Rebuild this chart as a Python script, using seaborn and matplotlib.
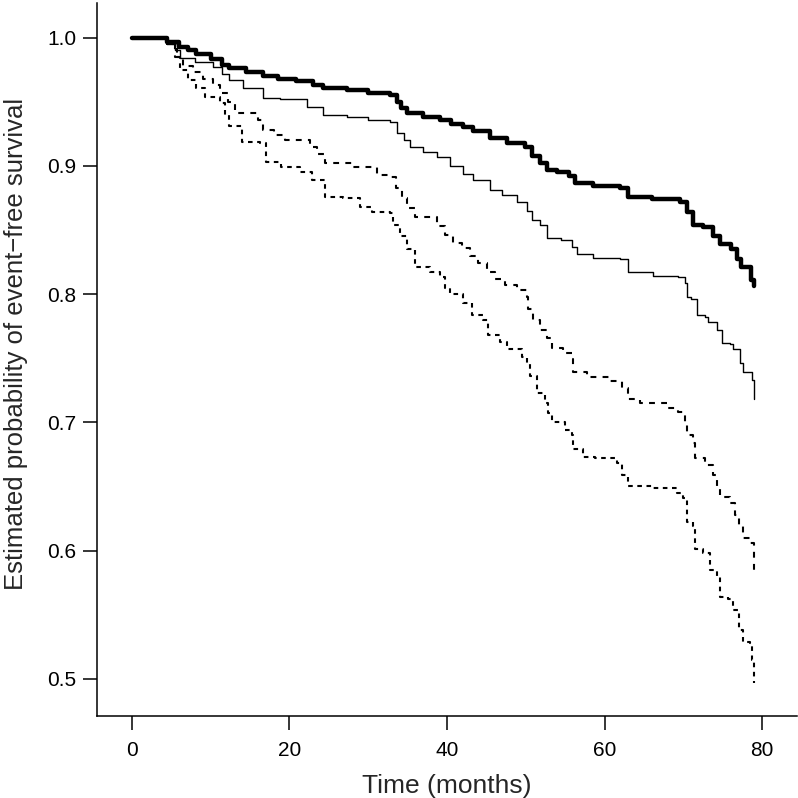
import matplotlib
matplotlib.use("Agg")
import matplotlib.pyplot as plt
import numpy as np
import pandas as pd
import seaborn as sns

# step curves: (time in months, survival)
t_a = [0, 4.5, 6, 7.2, 8.2, 10, 11.5, 12.4, 14.5, 16.6, 18.5, 20.9, 23, 24.3, 27.3, 30, 32.8,
       33.6, 34.2, 34.9, 37, 39.1, 40.5, 42, 43.3, 45.5, 47.6, 49.9, 50.8, 51.8, 52.7, 54, 55.5,
       56.3, 58.5, 62, 63, 66, 69.6, 70.4, 71.2, 72.5, 73.7, 74.7, 76, 76.8, 77.3, 78.6, 79]
s_a = [1.0, 0.997, 0.993, 0.99, 0.987, 0.983, 0.979, 0.976, 0.973, 0.970, 0.968, 0.966, 0.963,
       0.961, 0.959, 0.957, 0.955, 0.950, 0.945, 0.941, 0.938, 0.936, 0.933, 0.930, 0.927, 0.922,
       0.918, 0.915, 0.908, 0.902, 0.897, 0.895, 0.892, 0.887, 0.884, 0.883, 0.876, 0.874, 0.872,
       0.864, 0.854, 0.852, 0.845, 0.839, 0.835, 0.827, 0.821, 0.811, 0.806]

t_b = [0, 4.5, 5.5, 6.1, 8, 10.3, 11.5, 12.4, 14.1, 16.6, 18.8, 22.2, 24.3, 27.3, 30, 32.8, 33.7,
       34.5, 35.3, 37, 38.7, 40.4, 42, 43.3, 45.5, 47, 48.9, 50.2, 50.8, 51.8, 52.7, 54.5, 55.9,
       56.5, 58.5, 62, 63, 66.2, 69.3, 70.2, 70.4, 71, 71.7, 72.8, 73.1, 74.3, 74.9, 75.9, 76.3,
       77.2, 77.5, 78.7, 79]
s_b = [1.0, 0.995, 0.99, 0.984, 0.981, 0.977, 0.972, 0.967, 0.961, 0.953, 0.952, 0.946, 0.940,
       0.938, 0.936, 0.934, 0.926, 0.920, 0.915, 0.911, 0.907, 0.900, 0.894, 0.889, 0.881, 0.877,
       0.872, 0.865, 0.858, 0.854, 0.844, 0.842, 0.837, 0.831, 0.828, 0.827, 0.817, 0.814, 0.813,
       0.809, 0.798, 0.796, 0.784, 0.782, 0.778, 0.772, 0.762, 0.761, 0.757, 0.746, 0.739, 0.733,
       0.718]

t_c = [0, 4.5, 5.5, 6.5, 7.8, 9, 10.3, 11.2, 12.2, 13.1, 16, 16.7, 18, 19.4, 22.6, 23.5, 24.5,
       28.1, 31.1, 32.8, 33.5, 34.3, 34.9, 35.9, 38.7, 39.7, 40.8, 41.9, 42.9, 44, 45.1, 46.1,
       47.4, 48.9, 50.2, 50.3, 50.9, 51.8, 52.7, 53.3, 54.7, 55.9, 56, 57.8, 60.7, 62.2, 63, 64.5,
       67.9, 69.3, 70.2, 70.4, 71.2, 71.5, 72.8, 73.7, 74.3, 74.7, 75.9, 76.6, 77, 77.5, 78.5,
       78.9, 79]
s_c = [1.0, 0.995, 0.985, 0.978, 0.973, 0.968, 0.963, 0.957, 0.950, 0.941, 0.936, 0.928, 0.924,
       0.920, 0.915, 0.909, 0.902, 0.899, 0.893, 0.891, 0.883, 0.875, 0.867, 0.860, 0.853, 0.846,
       0.840, 0.836, 0.830, 0.824, 0.817, 0.812, 0.807, 0.803, 0.798, 0.788, 0.780, 0.772, 0.766,
       0.758, 0.754, 0.749, 0.739, 0.735, 0.732, 0.727, 0.718, 0.715, 0.711, 0.708, 0.700, 0.690,
       0.684, 0.672, 0.667, 0.659, 0.650, 0.642, 0.637, 0.628, 0.619, 0.610, 0.606, 0.593, 0.580]

t_d = [0, 4.5, 5.7, 6.1, 7.1, 8.2, 9.3, 11.2, 11.8, 12.4, 14, 16.3, 17.1, 19, 21.3, 22.9, 24.5,
       26.8, 29, 30.5, 32.8, 33.1, 34, 34.9, 35.9, 37.8, 39.1, 39.7, 40.4, 42, 43.2, 44.6, 45.2,
       46.7, 47.6, 49.5, 50.2, 50.5, 51.4, 52.4, 52.8, 53.3, 55, 55.9, 56, 57.3, 58.8, 61.6, 62.2,
       63, 66.2, 69.2, 70, 70.4, 71.2, 71.5, 72.5, 73.4, 74.3, 74.7, 75.7, 76.3, 77, 77.6, 78.5,
       78.7, 79]
s_d = [1.0, 0.995, 0.985, 0.975, 0.967, 0.961, 0.954, 0.949, 0.940, 0.931, 0.919, 0.918, 0.903,
       0.899, 0.895, 0.889, 0.876, 0.875, 0.868, 0.864, 0.863, 0.854, 0.845, 0.835, 0.821, 0.817,
       0.813, 0.805, 0.800, 0.793, 0.784, 0.780, 0.768, 0.763, 0.757, 0.751, 0.746, 0.736, 0.723,
       0.715, 0.707, 0.700, 0.694, 0.690, 0.679, 0.673, 0.672, 0.668, 0.659, 0.650, 0.649, 0.645,
       0.641, 0.622, 0.619, 0.601, 0.598, 0.585, 0.580, 0.564, 0.562, 0.554, 0.538, 0.529, 0.528,
       0.515, 0.497]

x_ticks = [0, 20, 40, 60, 80]
y_ticks = [0.5, 0.6, 0.7, 0.8, 0.9, 1.0]

sns.set_theme(style="ticks")
plt.rcParams['font.family'] = ['Liberation Sans', 'DejaVu Sans']
plt.rcParams['axes.unicode_minus'] = True

fig = plt.figure(figsize=(7.98, 7.98), dpi=100)
ax = fig.add_axes([0.1216, 0.1028, 0.877, 0.8934])

curves = [
    (t_a, s_a, 3.2, '-'),
    (t_b, s_b, 1.0, '-'),
    (t_c, s_c, 1.5, (0, (2.8, 3.0))),
    (t_d, s_d, 1.5, (0, (2.2, 2.2))),
]
for t, s, lw, ls in curves:
    sns.lineplot(x=t, y=s, ax=ax, color='black', lw=lw, linestyle=ls,
                 drawstyle='steps-post', errorbar=None, sort=True)

ax.set_xlim(-4.4, 84.4)
ax.set_ylim(0.471, 1.027)
ax.set_xticks(x_ticks)
ax.set_yticks(y_ticks)
ax.set_yticklabels([f"{v:.1f}" for v in y_ticks])
ax.set_xlabel("Time (months)", fontsize=19, labelpad=10)
ax.set_ylabel("Estimated probability of event\u2212free survival", fontsize=18.5)
ax.yaxis.set_label_coords(-0.099, 0.522)
ax.tick_params(axis='both', labelsize=15, length=10, width=1.1, color='black', labelcolor='black')
ax.tick_params(axis='x', pad=8)
ax.tick_params(axis='y', pad=5)
for side in ['top', 'right']:
    ax.spines[side].set_visible(False)
for side in ['left', 'bottom']:
    ax.spines[side].set_linewidth(1.1)
    ax.spines[side].set_color('black')

fig.savefig("out.png", dpi=100)
